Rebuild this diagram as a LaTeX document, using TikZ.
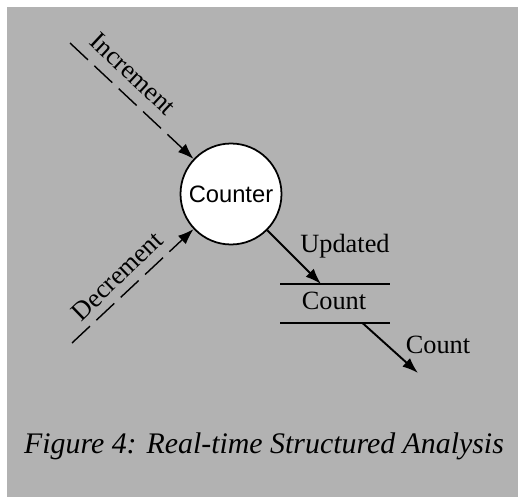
\documentclass[tikz,border=0pt]{standalone}
\usepackage{fontspec}
\setmainfont{Liberation Serif}
\newfontfamily\countersans{Liberation Sans}
\usetikzlibrary{arrows.meta,calc}

\begin{document}
\begin{tikzpicture}[x=0.02cm, y=-0.02cm,
    flowline/.style={line width=1.1pt, -{Latex[length=9pt,width=6.5pt]}},
    eventline/.style={line width=0.8pt, dash pattern=on 14pt off 5pt, -{Latex[length=9pt,width=6.5pt]}},
    storeline/.style={line width=1pt},
    lbl/.style={font=\fontsize{15}{18}\selectfont, inner sep=1pt}]
    \useasboundingbox (0, 0) rectangle (518, 497);
    \fill[black!30] (7, 7) rectangle (518, 497);

    \node[circle, draw, fill=white, line width=1pt, minimum size=2.02cm,
          font=\countersans\fontsize{13.5}{16}\selectfont] (counter) at (231, 194) {Counter};

    % event flows
    \coordinate (incstart) at (70, 43);
    \coordinate (decstart) at (72, 343);
    \draw[eventline] (incstart) -- (counter);
    \draw[eventline] (decstart) -- (counter);
    \node[lbl, rotate=-43] (inclbl) at (133, 74) {Increment};
    \node[lbl, rotate=44] (declbl) at (117, 276) {Decrement};

    % data flows and store
    \coordinate (updend) at (321, 284);
    \draw[flowline] (counter) -- (updend);
    \node[lbl] (updlbl) at (345, 246) {Updated};

    \coordinate (storetl) at (280, 284);
    \coordinate (storetr) at (390, 284);
    \coordinate (storebl) at (280, 323);
    \coordinate (storebr) at (390, 323);
    \draw[storeline] (storetl) -- (storetr);
    \draw[storeline] (storebl) -- (storebr);
    \node[lbl] (store) at (334, 300.5) {Count};

    \coordinate (countend) at (418, 373);
    \draw[flowline] ($(storebl)!0.75!(storebr)$) -- (countend);
    \node[lbl] (countlbl) at (438, 345) {Count};

    \node[font=\fontsize{17}{20}\selectfont\itshape] (caption) at (264, 446) {Figure 4: Real-time Structured Analysis};
\end{tikzpicture}
\end{document}
